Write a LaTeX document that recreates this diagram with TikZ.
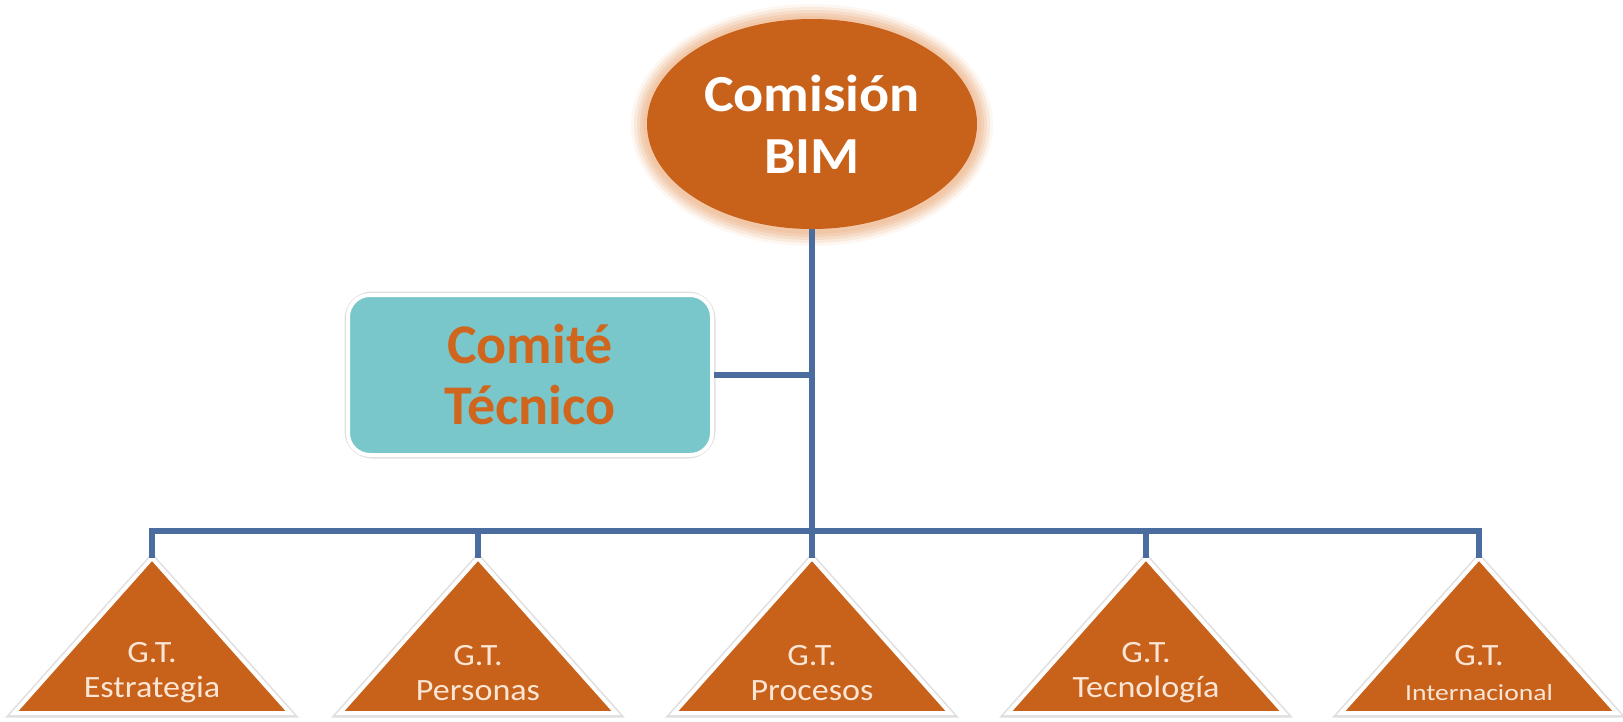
\documentclass[tikz,border=0pt]{standalone}
\usepackage{fontspec}
\usepackage{graphicx}
\setmainfont{Carlito}
\usetikzlibrary{shapes.geometric}
\definecolor{orng}{HTML}{C8611A}
\definecolor{halo}{HTML}{F0C4A2}
\definecolor{tealbox}{HTML}{7AC7CB}
\definecolor{ctorange}{HTML}{D0661E}
\definecolor{lineblue}{HTML}{4A6C9E}
\definecolor{gttext}{HTML}{FBE6D6}
\newcommand{\wideby}[2]{\scalebox{#1}[1]{#2}}
\begin{document}
\begin{tikzpicture}[x=1pt,y=-1pt,
  conn/.style={draw=lineblue,line width=6pt},
  gtlabel/.style={text=gttext,align=center,inner sep=0pt,font=\fontsize{31}{35}\selectfont},
  tri/.style={fill=orng,draw=white,line width=4pt,line join=miter}]
\useasboundingbox (0,0) rectangle (1623,721);
% halo round the ellipse
\foreach \d/\o in {16/0.15,13/0.25,10/0.35,7/0.5,4/0.75}
  \fill[halo,opacity=\o] (812,125) ellipse [x radius=165pt+\d pt, y radius=105pt+\d pt];
\node[ellipse,fill=orng,minimum width=330pt,minimum height=210pt,inner sep=0pt,
  text=white,align=center,font=\bfseries\fontsize{52}{62}\selectfont] (com) at (812,124) {\wideby{1.08}{Comisión}\\\wideby{1.08}{BIM}};
% comite box
\draw[gray!25,line width=7pt,rounded corners=24pt] (348,295) rectangle (712,455);
\node[rectangle,rounded corners=22pt,fill=tealbox,draw=white,line width=4pt,
  minimum width=364pt,minimum height=160pt,inner sep=0pt,
  text=ctorange,align=center,font=\bfseries\fontsize{56}{61}\selectfont] (ct) at (530,375) {Comité\\Técnico};
% triangles
\foreach \i/\cx in {1/152,2/478,3/812,4/1146,5/1479}{
  \coordinate (a\i) at (\cx,558);
  \draw[gray!25,line width=7pt] (\cx,558) -- (\cx-139,714) -- (\cx+139,714) -- cycle;
  \path[tri] (\cx,558) -- (\cx-138,713) -- (\cx+138,713) -- cycle;
}
\node[gtlabel] (g1) at (152,673) {\wideby{1.1}{G.T.}\\\wideby{1.1}{Estrategia}};
\node[gtlabel] (g2) at (478,673) {\wideby{1.1}{G.T.}\\\wideby{1.1}{Personas}};
\node[gtlabel] (g3) at (812,673) {\wideby{1.1}{G.T.}\\\wideby{1.1}{Procesos}};
\node[gtlabel] (g4) at (1146,673) {\wideby{1.1}{G.T.}\\\wideby{1.1}{Tecnología}};
\node[gtlabel] (g5) at (1479,673) {\wideby{1.1}{G.T.}\\{\fontsize{23}{23}\selectfont\wideby{1.2}{Internacional}}};
% connectors
\coordinate (bus) at (812,531);
\draw[conn] (com.south) -- (a3);
\draw[conn] (a1) |- (bus) -| (a5);
\draw[conn] (a2) -- (a2 |- bus);
\draw[conn] (a4) -- (a4 |- bus);
\draw[conn] (ct.east) -- (ct.east -| com.south);
\end{tikzpicture}
\end{document}
